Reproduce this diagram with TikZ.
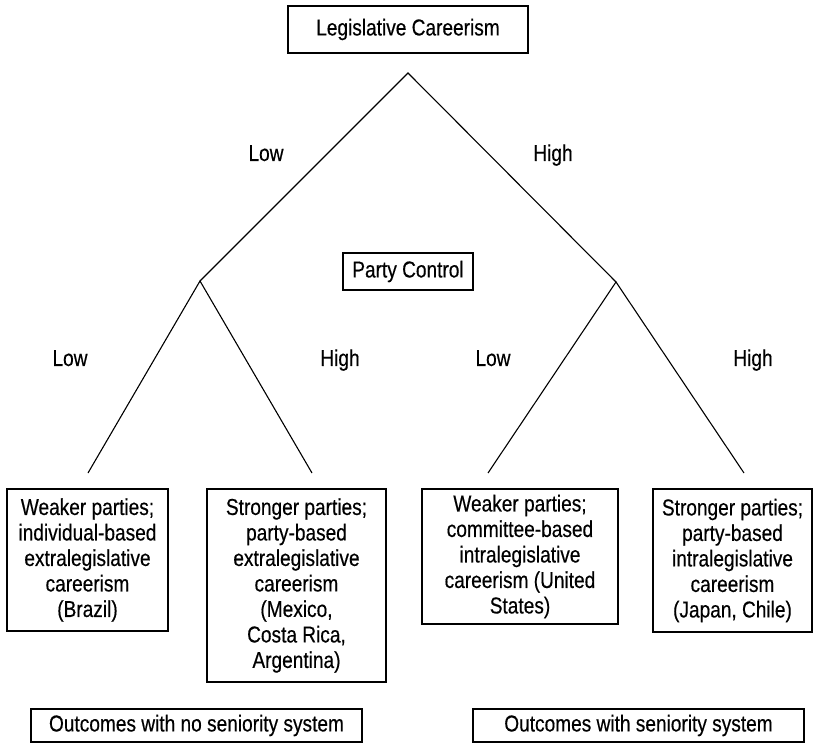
\documentclass[tikz,border=0pt]{standalone}
\usepackage{fontspec}
\setmainfont[FakeStretch=0.83,FakeBold=0.4]{Liberation Sans}
\begin{document}
\begin{tikzpicture}[x=1pt,y=-1pt,
  txt/.style={font=\fontsize{23}{25.5}\selectfont},
  box/.style={txt,draw,line width=1.1pt,align=center,inner sep=0pt},
  lbl/.style={txt,anchor=base,inner sep=0pt},
  branch/.style={line width=1.1pt}]
\useasboundingbox (0,0) rectangle (814,743);
\node[box,minimum width=240pt,minimum height=47pt] (top) at (408,29.5) {Legislative Careerism};
\node[box,minimum width=130pt,minimum height=37pt] (pc) at (408,271.5) {Party Control};
\node[box,minimum width=161pt,minimum height=142pt] (b1) at (87.5,560) {Weaker parties;\\individual-based\\extralegislative\\careerism\\(Brazil)};
\node[box,minimum width=179pt,minimum height=193pt] (b2) at (296.5,585.5) {Stronger parties;\\party-based\\extralegislative\\careerism\\(Mexico,\\Costa Rica,\\Argentina)};
\node[box,minimum width=196pt,minimum height=135pt] (b3) at (520,556.5) {Weaker parties;\\committee-based\\intralegislative\\careerism (United\\States)};
\node[box,minimum width=159pt,minimum height=143pt] (b4) at (732.5,560.5) {Stronger parties;\\party-based\\intralegislative\\careerism\\(Japan, Chile)};
\node[box,minimum width=331pt,minimum height=33pt] (o1) at (196.5,725.5) {Outcomes with no seniority system};
\node[box,minimum width=331pt,minimum height=33pt] (o2) at (638.5,725.5) {Outcomes with seniority system};
\coordinate (apex) at (408,73);
\coordinate (L) at (200,281);
\coordinate (R) at (616,282);
\coordinate (LL) at (88,473);
\coordinate (LH) at (312,473);
\coordinate (RL) at (488,473);
\coordinate (RH) at (744,473);
\draw[branch] (L) -- (apex) -- (R);
\draw[branch] (LL) -- (L) -- (LH);
\draw[branch] (RL) -- (R) -- (RH);
\node[lbl] (lowA) at (266,161) {Low};
\node[lbl] (highA) at (553,161) {High};
\node[lbl] (lowB) at (70,366) {Low};
\node[lbl] (highB) at (340,366) {High};
\node[lbl] (lowC) at (493,366) {Low};
\node[lbl] (highC) at (753,366) {High};
\end{tikzpicture}
\end{document}
